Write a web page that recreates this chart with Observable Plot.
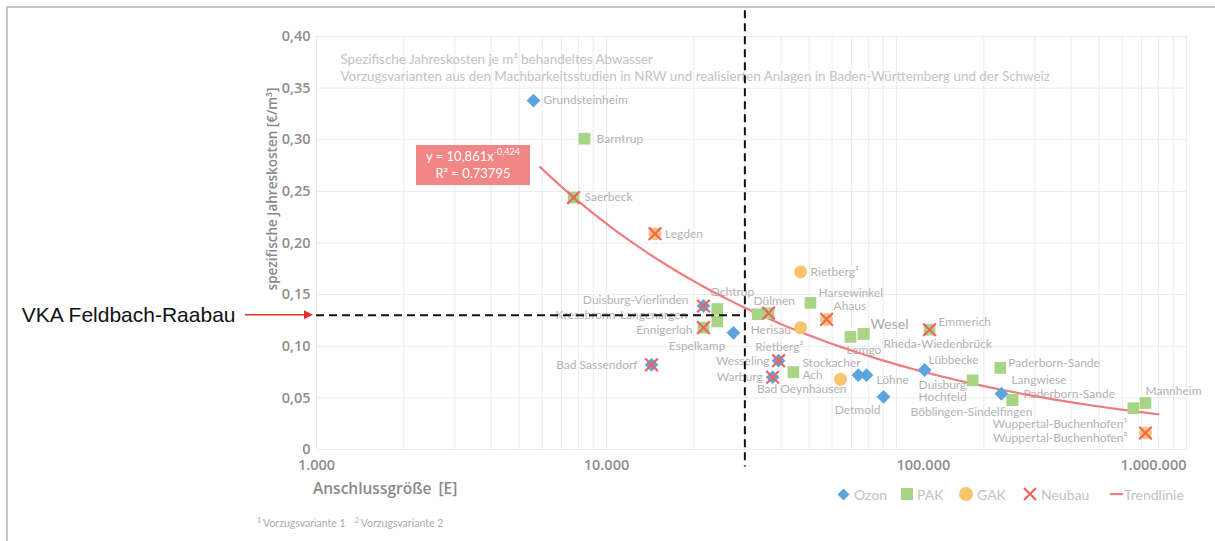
<!DOCTYPE html>
<html>
<head>
<meta charset="utf-8">
<script src="https://cdn.jsdelivr.net/npm/d3@7"></script>
<script src="https://cdn.jsdelivr.net/npm/@observablehq/plot@0.6"></script>
<style>
  html, body { margin: 0; padding: 0; background: #fff; }
  #page { position: relative; width: 1215px; height: 541px; overflow: hidden; font-family: Lato, "Open Sans", sans-serif; }
  #chart { position: absolute; left: 0; top: 0; }
  .frame-top { position: absolute; left: 6px; top: 6px; width: 1209px; height: 2px; background: #c8c8c8; }
  .frame-left { position: absolute; left: 6px; top: 6px; width: 2px; height: 535px; background: #c8c8c8; }
  .ytitle { position: absolute; left: 272px; top: 189px; transform: translate(-50%, -50%) rotate(-90deg);
            white-space: nowrap; font: 600 13.5px "Open Sans", sans-serif; color: #8a8a8a; }
  .xtitle { position: absolute; left: 313px; top: 477px; font: 600 15.5px "Open Sans", sans-serif; color: #8a8a8a; word-spacing: 3px; }
  .formula { position: absolute; left: 416px; top: 145px; width: 114px; height: 40px; background: #f28585; color: #fff;
             font: 13px Lato, sans-serif; text-align: center; line-height: 17px; padding-top: 3px; box-sizing: border-box; }
  .formula sup { font-size: 9px; vertical-align: 6px; line-height: 0; }
  .legend { position: absolute; top: 484px; left: 0; width: 1215px; height: 20px; font: 14px Lato, sans-serif; color: #c2c2c2; }
  .legend .item { position: absolute; top: 0; height: 20px; display: flex; align-items: center; }
  .legend svg { margin-right: 4px; }
  .foot { position: absolute; left: 257px; top: 517px; font: 10.5px Lato, sans-serif; color: #ababab; }
  .foot sup { font-size: 7px; vertical-align: 4px; line-height: 0; margin-right: 2px; }
  .foot span + span { margin-left: 9px; }
</style>
</head>
<body>
<div id="page">
  <div id="chart"></div>
  <div class="frame-top"></div>
  <div class="frame-left"></div>
  <div class="ytitle">spezifische Jahreskosten [€/m³]</div>
  <div class="formula">y = 10,861x<sup>-0,424</sup><br>R² = 0.73795</div>
  <div class="xtitle">Anschlussgröße [E]</div>
  <div class="legend" id="legend"></div>
  <div class="foot"><span><sup>1</sup>Vorzugsvariante 1</span><span><sup>2</sup>Vorzugsvariante 2</span></div>
</div>
<script>
// Anlagen: Name, Verfahren, Neubau (1 = ja), Anschlussgröße [E], spezifische Jahreskosten [€/m³]
const sites = [
  "Grundsteinheim", "Barntrup", "Saerbeck", "Legden", "Rietberg¹", "Harsewinkel", "Ahaus",
  "Ochtrup", "Kressbronn-Langenargen", "Duisburg-Vierlinden", "Ennigerloh", "Espelkamp",
  "Bad Sassendorf", "Dülmen", "Herisau", "Rietberg²", "Wesseling", "Warburg", "Stockacher\nAch",
  "Bad Oeynhausen", "", "Löhne", "Detmold", "Lemgo", "Wesel", "Rheda-Wiedenbrück", "Emmerich",
  "Lübbecke", "Duisburg\nHochfeld", "Paderborn-Sande", "Langwiese", "Paderborn-Sande",
  "Böblingen-Sindelfingen", "Wuppertal-Buchenhofen¹", "Mannheim", "Wuppertal-Buchenhofen²"
];
const verfahren = [
  "Ozon", "PAK", "PAK", "GAK", "GAK", "PAK", "GAK",
  "PAK", "PAK", "Ozon", "PAK", "Ozon",
  "Ozon", "PAK", "PAK", "GAK", "Ozon", "Ozon", "PAK",
  "GAK", "Ozon", "Ozon", "Ozon", "PAK", "PAK", "PAK", "PAK",
  "Ozon", "PAK", "PAK", "Ozon", "PAK",
  "PAK", "PAK", "PAK", "GAK"
];
const neubau = [
  0, 0, 1, 1, 0, 0, 1,
  0, 0, 1, 1, 0,
  1, 1, 0, 0, 1, 1, 0,
  0, 0, 0, 0, 0, 0, 0, 1,
  0, 0, 0, 0, 0,
  0, 0, 0, 1
];
const anschluss = [
  5600, 8400, 7700, 14700, 46700, 50500, 57400,
  24100, 24100, 21600, 21600, 27400,
  14300, 36200, 33200, 46700, 39200, 37400, 44100,
  64100, 73900, 78800, 90200, 69400, 77000, 77000, 130000,
  125000, 183000, 228000, 230000, 251000,
  251000, 656000, 722000, 722000
];
const kosten = [
  0.338, 0.301, 0.244, 0.209, 0.172, 0.142, 0.126,
  0.136, 0.124, 0.139, 0.118, 0.113,
  0.082, 0.132, 0.131, 0.118, 0.086, 0.070, 0.075,
  0.068, 0.072, 0.072, 0.051, 0.109, 0.112, 0.112, 0.116,
  0.077, 0.067, 0.079, 0.054, 0.048,
  0.048, 0.040, 0.045, 0.016
];

// Trendlinie (Potenzfunktion) und Bereich, über den sie gezeichnet wird
const trendA = 10.861;
const trendB = -0.424;
const trendRange = [5900, 800000];

// Betrachtete Variante
const vkaLabel = "VKA Feldbach-Raabau";
const vkaSize = 30000;
const vkaCost = 0.13;

// Achsen
const yTicks = [0, 0.05, 0.10, 0.15, 0.20, 0.25, 0.30, 0.35, 0.40];
const xTicks = [1000, 10000, 100000, 1000000];
const subtitle = "Spezifische Jahreskosten je m³ behandeltes Abwasser\nVorzugsvarianten aus den Machbarkeitsstudien in NRW und realisierten Anlagen in Baden-Württemberg und der Schweiz";

// Farben
const colors = { Ozon: "#5ba5dc", PAK: "#a8d585", GAK: "#f8c46c", Neubau: "#ee6464", Trend: "#f07d7d" };

// Beschriftungslage je Anlage: [textAnchor, dx, dy]
const labelPlace = [
  ["start", 10, 0], ["start", 12, 0], ["start", 11, 0], ["start", 10, 0], ["start", 10, 0], ["start", 8, -10], ["start", 7, -13],
  ["start", -7, -17], ["end", -30, -6], ["end", -15, -6], ["end", -11, 2], ["end", -8, 13],
  ["end", -14, 0], ["start", -15, -12], ["start", -7, 16], ["end", 3, 19], ["end", -9, 0], ["end", -10, 0], ["start", 9, -3],
  ["end", 6, 10], ["start", 0, 0], ["start", 10, 5], ["end", -3, 13], ["start", -4, 13], ["start", 7, -9], ["start", 20, 10], ["start", 9, -8],
  ["start", 4, -10], ["start", -54, 11], ["start", 8, -5], ["start", 10, -14], ["start", 11, -6],
  ["end", 20, 12], ["end", -6, 16], ["start", 0, -12], ["end", -18, 5]
];

const table = sites.map((name, i) => ({
  name, typ: verfahren[i], neu: neubau[i] === 1, E: anschluss[i], k: kosten[i],
  anchor: labelPlace[i][0], dx: labelPlace[i][1], dy: labelPlace[i][2]
}));

const trend = d3.range(0, 81).map(i => {
  const l0 = Math.log10(trendRange[0]), l1 = Math.log10(trendRange[1]);
  const E = 10 ** (l0 + (l1 - l0) * i / 80);
  return { E, k: trendA * E ** trendB };
});

const de = d3.formatLocale({ decimal: ",", thousands: ".", grouping: [3], currency: ["", " €"] });
const fmtY = d => d === 0 ? "0" : de.format(".2f")(d);
const fmtX = de.format(",d");

// vertikale Gitterlinien an jeder Unterteilung der Zehnerpotenzen
const minor = [];
for (const dec of [1000, 10000, 100000]) for (let k = 1; k <= 9; k++) minor.push(k * dec);
minor.push(1000000);

const labelFont = { fontFamily: "Lato, sans-serif", fontSize: 12, fill: "#b3b3b3" };
const labelMarks = table.filter(d => d.name).map(d => Plot.text([d], {
  x: "E", y: "k", text: "name", textAnchor: d.anchor, dx: d.dx, dy: d.dy,
  lineHeight: 1.0, ...labelFont,
  ...(d.name === "Wesel" ? { fontSize: 14, fill: "#a9a9a9" } : {})
}));

const tickFont = { fontFamily: "'Open Sans', sans-serif", fontSize: 14.5, fontWeight: 600, fill: "#8e8e8e" };

const plot = Plot.plot({
  width: 1215,
  height: 541,
  marginLeft: 316,
  marginRight: 29,
  marginTop: 36,
  marginBottom: 92,
  style: { background: "transparent", overflow: "visible" },
  x: { type: "log", domain: [1000, 1000000], axis: null },
  y: { domain: [0, 0.40], axis: null },
  marks: [
    Plot.gridX(minor, { stroke: "#ececec", strokeOpacity: 1, strokeWidth: 1 }),
    Plot.gridY(yTicks, { stroke: "#ececec", strokeOpacity: 1, strokeWidth: 1 }),
    Plot.axisY(yTicks, { tickSize: 0, tickPadding: 6, tickFormat: fmtY, label: null, ...tickFont }),
    Plot.text(xTicks.filter(d => d < 100000), { x: d => d, frameAnchor: "bottom", lineAnchor: "top", dy: 10, text: fmtX, textAnchor: "middle", ...tickFont }),
    Plot.text(xTicks.filter(d => d === 100000), { x: d => d, frameAnchor: "bottom", lineAnchor: "top", dy: 10, text: fmtX, textAnchor: "start", ...tickFont }),
    Plot.text(xTicks.filter(d => d === 1000000), { x: d => d, frameAnchor: "bottom", lineAnchor: "top", dy: 10, text: fmtX, textAnchor: "end", ...tickFont }),
    Plot.text([subtitle], { frameAnchor: "top-left", text: d => d, dx: 24, dy: 15, lineAnchor: "top", lineHeight: 1.3,
      fontFamily: "Lato, sans-serif", fontSize: 13.4, fill: "#c3c3c3" }),
    ...labelMarks,
    Plot.line(trend, { x: "E", y: "k", stroke: colors.Trend, strokeWidth: 2.2 }),
    Plot.dot(table.filter(d => d.typ === "PAK"), { x: "E", y: "k", symbol: "square", r: 6.6, fill: colors.PAK }),
    Plot.dot(table.filter(d => d.typ === "GAK"), { x: "E", y: "k", symbol: "circle", r: 6.5, fill: colors.GAK }),
    Plot.dot(table.filter(d => d.typ === "Ozon"), { x: "E", y: "k", symbol: "diamond2", r: 6.2, fill: colors.Ozon }),
    Plot.dot(table.filter(d => d.neu), { x: "E", y: "k", symbol: "times", r: 5.8, stroke: colors.Neubau, strokeWidth: 2.2 }),
    Plot.ruleY([vkaCost], { x1: 1000, x2: vkaSize, stroke: "#111", strokeWidth: 2, strokeDasharray: "8,5" }),
    Plot.ruleX([vkaSize], { y1: 0.425, y2: -0.017, stroke: "#111", strokeWidth: 2, strokeDasharray: "8,5" }),
    Plot.text([vkaLabel], { x: 1000, y: vkaCost, text: d => d, textAnchor: "end", dx: -81,
      fontFamily: "'Liberation Sans', Arial, sans-serif", fontSize: 21, fill: "#111" })
  ]
});
document.getElementById("chart").appendChild(plot);

// roter Pfeil von der Beschriftung zur y-Achse
const xs = plot.scale("x"), ys = plot.scale("y");
const ax = xs.apply(1000), ay = ys.apply(vkaCost);
const svg = d3.select(plot.tagName === "svg" ? plot : plot.querySelector("svg"));
svg.append("line").attr("x1", ax - 71).attr("x2", ax - 10).attr("y1", ay).attr("y2", ay)
  .attr("stroke", "#e2302c").attr("stroke-width", 1.6);
svg.append("path").attr("d", `M${ax - 3},${ay} L${ax - 12},${ay - 4.5} L${ax - 12},${ay + 4.5} Z`).attr("fill", "#e2302c");

// Legende
const legendItems = [
  { left: 837, label: "Ozon", svg: `<svg width="13" height="13"><path d="M6.5 0.5 L12.5 6.5 L6.5 12.5 L0.5 6.5Z" fill="${colors.Ozon}"/></svg>` },
  { left: 901, label: "PAK", svg: `<svg width="12" height="12"><rect width="12" height="12" fill="${colors.PAK}"/></svg>` },
  { left: 959, label: "GAK", svg: `<svg width="14" height="14"><circle cx="7" cy="7" r="7" fill="${colors.GAK}"/></svg>` },
  { left: 1023, label: "Neubau", svg: `<svg width="14" height="14"><path d="M1 1 L13 13 M13 1 L1 13" stroke="${colors.Neubau}" stroke-width="2.2"/></svg>` },
  { left: 1110, label: "Trendlinie", svg: `<svg width="13" height="4" style="margin-right:1px"><rect y="1" width="13" height="2.2" fill="${colors.Trend}"/></svg>` }
];
const legend = document.getElementById("legend");
for (const it of legendItems) {
  const el = document.createElement("div");
  el.className = "item";
  el.style.left = it.left + "px";
  el.innerHTML = it.svg + `<span>${it.label}</span>`;
  legend.appendChild(el);
}
</script>
</body>
</html>
